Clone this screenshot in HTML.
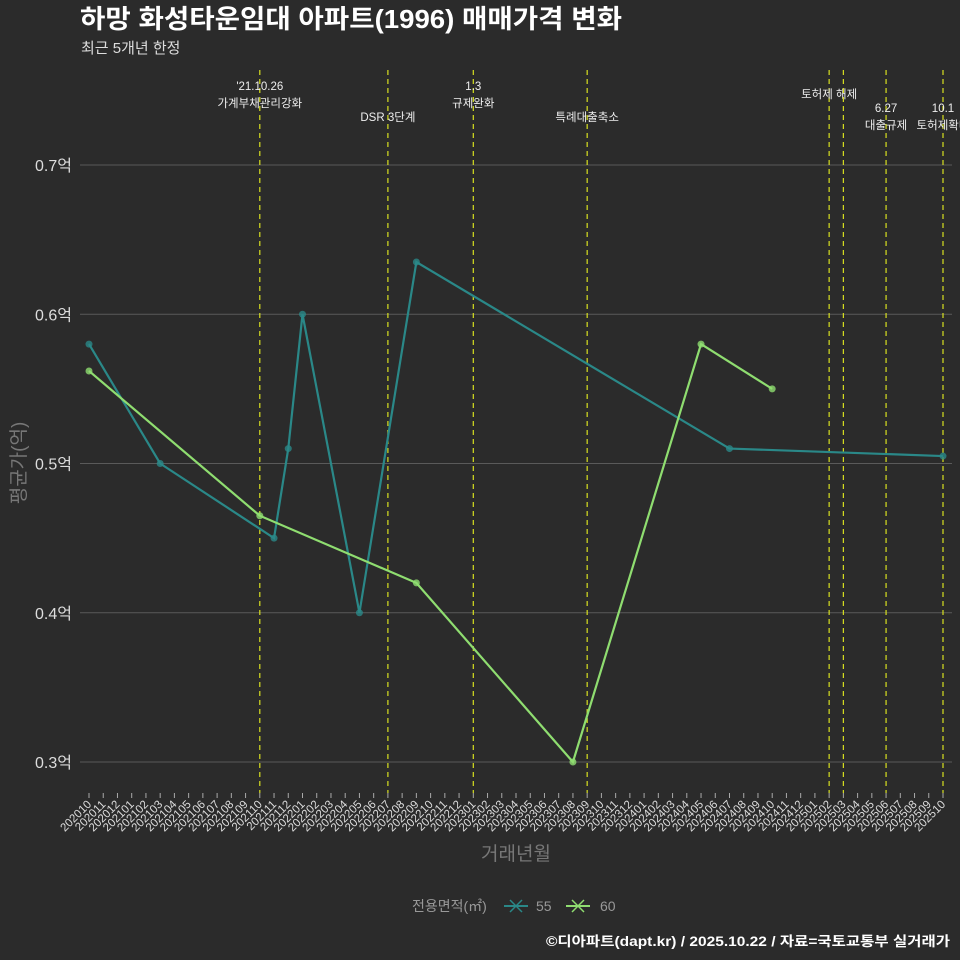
<!DOCTYPE html>
<html><head><meta charset="utf-8"><style>
body{margin:0;background:#2b2b2b;}
svg{display:block;font-family:"Liberation Sans","Noto Sans CJK KR",sans-serif;}
</style></head><body>
<svg id="c" width="960" height="960" xmlns="http://www.w3.org/2000/svg">
<rect width="960" height="960" fill="#2b2b2b"/>
<text x="80" y="28" font-size="26" font-weight="bold" fill="#fff" textLength="542" lengthAdjust="spacingAndGlyphs">하망 화성타운임대 아파트(1996) 매매가격 변화</text>
<text x="81" y="53" font-size="15" fill="#ddd">최근 5개년 한정</text>
<text x="25" y="463" font-size="19" fill="#777" text-anchor="middle" transform="rotate(-90 25 463)">평균가(억)</text>
<text x="516" y="860" font-size="19" fill="#777" text-anchor="middle">거래년월</text>
<g>
<text x="412" y="911" font-size="14" fill="#999">전용면적(㎡)</text>
<g><line x1="504" y1="906" x2="528" y2="906" stroke="#2a8888" stroke-width="2"/><path d="M510 900l12 12M522 900l-12 12" stroke="#2a8888" stroke-width="1.5"/><text x="536" y="911" font-size="14" fill="#999">55</text></g>
<g><line x1="566" y1="906" x2="590" y2="906" stroke="#8fdd70" stroke-width="2"/><path d="M572 900l12 12M584 900l-12 12" stroke="#8fdd70" stroke-width="1.5"/><text x="600" y="911" font-size="14" fill="#999">60</text></g>
</g>
<text x="546" y="946" font-size="13.5" font-weight="bold" fill="#fff" textLength="404" lengthAdjust="spacingAndGlyphs">©디아파트(dapt.kr) / 2025.10.22 / 자료=국토교통부 실거래가</text>
<g id="plot"></g>
</svg>
<script>
const yTicks=[0.3,0.4,0.5,0.6,0.7];
const cat55=["202010","202103","202111","202112","202201","202205","202209","202407","202510"];
const val55=[0.58,0.50,0.45,0.51,0.60,0.40,0.635,0.51,0.505];
const cat60=["202010","202110","202209","202308","202405","202410"];
const val60=[0.562,0.465,0.42,0.30,0.58,0.55];
const eventMonths=["202110","202207","202301","202309","202502","202503","202506","202510"];
const eventLabels=[["'21.10.26","가계부채관리강화"],["","DSR 3단계"],["1.3","규제완화"],["","특례대출축소"],["토허제 해제",""],["",""],["6.27","대출규제"],["10.1","토허제확대"]];
const eventRows=[0,1,0,1,2,2,3,3];
const months=[];for(let y=2020;y<=2025;y++)for(let m=1;m<=12;m++){const s=""+y+(m<10?"0":"")+m;if(s>="202010"&&s<="202510")months.push(s);}
const ns="http://www.w3.org/2000/svg",g=document.getElementById("plot");
const X=c=>89+months.indexOf(c)*(943-89)/(months.length-1);
const Y=v=>762-(v-0.3)*1492.5;
function el(t,a,p){const e=document.createElementNS(ns,t);for(const k in a)e.setAttribute(k,a[k]);(p||g).appendChild(e);return e;}
yTicks.forEach(v=>{
const l=el("line",{x1:80,x2:952,y1:Y(v),y2:Y(v),stroke:"#5a5a5a","stroke-width":1});


const t=el("text",{x:72,y:Y(v)+6,"font-size":16,fill:"#ddd","text-anchor":"end"});t.textContent=v.toFixed(1)+"억";


});
months.forEach(m=>{
const x=X(m);
const tk=el("line",{x1:x,x2:x,y1:793,y2:798,stroke:"#aaa"});


const t=el("text",{x:x+3,y:805,"font-size":11.5,fill:"#ddd","text-anchor":"end",transform:`rotate(-45 ${x+3} 805)`});t.textContent=m;


});
const rowY=[[90,107],[121,121],[98,98],[112,129]];
eventMonths.forEach((m,i)=>{
const x=X(m);
const l=el("line",{x1:x,x2:x,y1:70,y2:793,stroke:"#d8e020","stroke-width":1.2,"stroke-dasharray":"5,4"});


const r=rowY[eventRows[i]];
eventLabels[i].forEach((s,j)=>{if(!s)return;
const t=el("text",{x:x,y:r[j],"font-size":11.5,fill:"#eee","text-anchor":"middle"});t.textContent=s;


});
});
function series(cats,vals,col,name){
const p=el("polyline",{points:cats.map((c,i)=>X(c)+","+Y(vals[i])).join(" "),fill:"none",stroke:col,"stroke-width":2.2});


cats.forEach((c,i)=>{const d=el("circle",{cx:X(c),cy:Y(vals[i]),r:3.5,fill:col,"fill-opacity":0.8});

});
}
series(cat55,val55,"#2a8888","series-55");
series(cat60,val60,"#8fdd70","series-60");
</script>
</body></html>
